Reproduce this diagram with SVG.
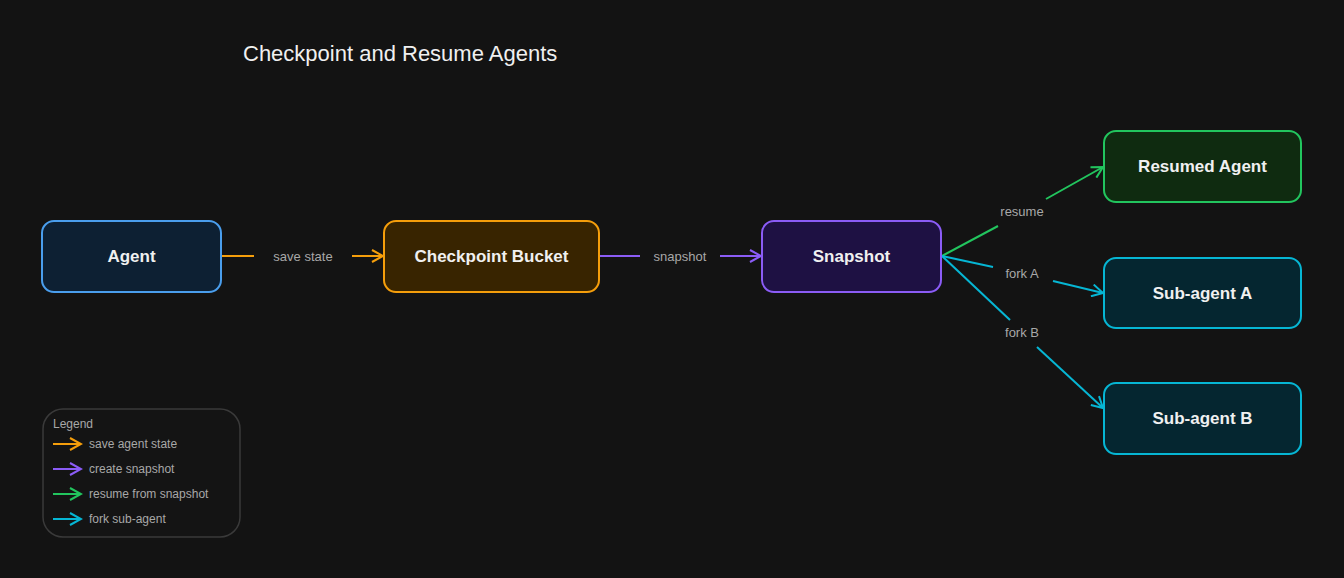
<svg xmlns="http://www.w3.org/2000/svg" width="1344" height="578" viewBox="0 0 1344 578">
<defs>
<style>
.t{font-family:"Liberation Sans","DejaVu Sans",sans-serif;}
.nl{font-size:17px;fill:#f0f0f0;text-anchor:middle;dominant-baseline:central;font-weight:bold}
.el{font-size:13px;fill:#a8a8a8;text-anchor:middle;dominant-baseline:central}
.lg{font-size:12px;fill:#a8a8a8;dominant-baseline:central}
.n{stroke-width:2}
.c{fill:none;stroke-width:2}
</style>
<marker id="mo" markerWidth="14" markerHeight="14" refX="12" refY="7" orient="auto" markerUnits="userSpaceOnUse"><path d="M1,1 L12,7 L1,13" fill="none" stroke="#f59e0b" stroke-width="2"/></marker>
<marker id="mp" markerWidth="14" markerHeight="14" refX="12" refY="7" orient="auto" markerUnits="userSpaceOnUse"><path d="M1,1 L12,7 L1,13" fill="none" stroke="#8b5cf6" stroke-width="2"/></marker>
<marker id="mg" markerWidth="14" markerHeight="14" refX="12" refY="7" orient="auto" markerUnits="userSpaceOnUse"><path d="M1,1 L12,7 L1,13" fill="none" stroke="#22c55e" stroke-width="2"/></marker>
<marker id="mc" markerWidth="14" markerHeight="14" refX="12" refY="7" orient="auto" markerUnits="userSpaceOnUse"><path d="M1,1 L12,7 L1,13" fill="none" stroke="#06b6d4" stroke-width="2"/></marker>
</defs>
<rect width="1344" height="578" fill="#131313"/>
<text class="t" x="243" y="53" font-size="22" fill="#f0f0f0" dominant-baseline="central">Checkpoint and Resume Agents</text>
<g id="connectors">
<path class="c" stroke="#f59e0b" d="M222,256 H254"/><path class="c" stroke="#f59e0b" d="M352,256 H383" marker-end="url(#mo)"/>
<text class="t el" x="303" y="256">save state</text>
<path class="c" stroke="#8b5cf6" d="M600,256 H640"/><path class="c" stroke="#8b5cf6" d="M720,256 H761" marker-end="url(#mp)"/>
<text class="t el" x="680" y="256">snapshot</text>
<path class="c" stroke="#22c55e" d="M942,256 L998,226"/><path class="c" stroke="#22c55e" d="M1046,199 L1103,167" marker-end="url(#mg)"/>
<text class="t el" x="1022" y="211">resume</text>
<path class="c" stroke="#06b6d4" d="M942,256 L993,267"/><path class="c" stroke="#06b6d4" d="M1053,281 L1103,293" marker-end="url(#mc)"/>
<text class="t el" x="1022" y="273">fork A</text>
<path class="c" stroke="#06b6d4" d="M942,256 L1010,320"/><path class="c" stroke="#06b6d4" d="M1037,347 L1103,408" marker-end="url(#mc)"/>
<text class="t el" x="1022" y="332">fork B</text>
</g>
<g id="agent"><rect class="n" x="42" y="221" width="179" height="71" rx="12" fill="#0d2033" stroke="#4a9eed"/><text class="t nl" x="131.5" y="256.5">Agent</text></g>
<g id="bucket"><rect class="n" x="384" y="221" width="215" height="71" rx="12" fill="#382400" stroke="#f59e0b"/><text class="t nl" x="491.5" y="256.5">Checkpoint Bucket</text></g>
<g id="snapshot"><rect class="n" x="762" y="221" width="179" height="71" rx="12" fill="#1e1143" stroke="#8b5cf6"/><text class="t nl" x="851.5" y="256.5">Snapshot</text></g>
<g id="resumed"><rect class="n" x="1104" y="131" width="197" height="71" rx="12" fill="#0f2b10" stroke="#22c55e"/><text class="t nl" x="1202.5" y="166.5">Resumed Agent</text></g>
<g id="subA"><rect class="n" x="1104" y="258" width="197" height="70" rx="12" fill="#052630" stroke="#06b6d4"/><text class="t nl" x="1202.5" y="293">Sub-agent A</text></g>
<g id="subB"><rect class="n" x="1104" y="383" width="197" height="71" rx="12" fill="#052630" stroke="#06b6d4"/><text class="t nl" x="1202.5" y="418.5">Sub-agent B</text></g>
<g id="legend">
<rect x="43" y="409" width="197" height="128" rx="20" fill="#141414" stroke="#3a3a3a" stroke-width="1.5"/>
<text class="t lg" x="53" y="424">Legend</text>
<path class="c" stroke="#f59e0b" d="M53,444 H81" marker-end="url(#mo)"/><text class="t lg" x="89" y="444">save agent state</text>
<path class="c" stroke="#8b5cf6" d="M53,469 H81" marker-end="url(#mp)"/><text class="t lg" x="89" y="469">create snapshot</text>
<path class="c" stroke="#22c55e" d="M53,494 H81" marker-end="url(#mg)"/><text class="t lg" x="89" y="494">resume from snapshot</text>
<path class="c" stroke="#06b6d4" d="M53,519 H81" marker-end="url(#mc)"/><text class="t lg" x="89" y="519">fork sub-agent</text>
</g>
</svg>
